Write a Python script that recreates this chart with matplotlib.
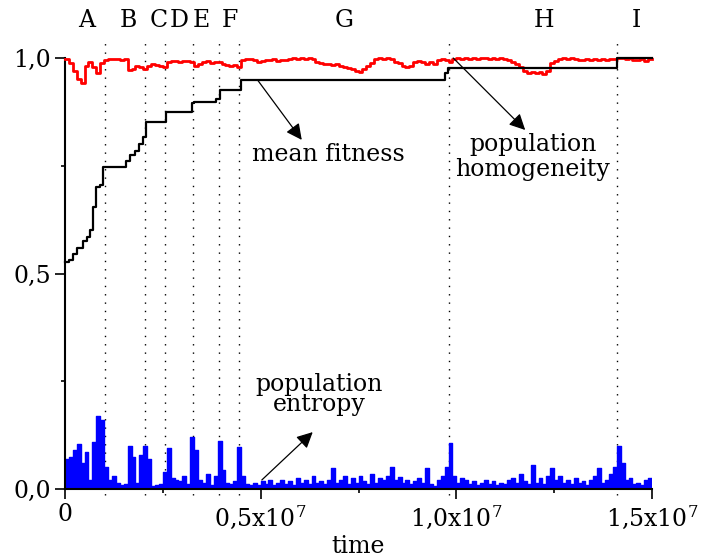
import numpy as np
import matplotlib
matplotlib.use("Agg")
import matplotlib.pyplot as plt

plt.rcParams['font.family'] = ['DejaVu Serif']
plt.rcParams['mathtext.fontset'] = 'dejavuserif'

# time grid in units of 1e6 steps (0 .. 1.5e7)
t_grid = np.arange(151) * 0.1e6

# population homogeneity (red)
homogeneity = [
    0.998, 0.988, 0.970, 0.952, 0.942, 0.982, 0.990, 0.978, 0.965, 0.988,
    0.995, 0.998, 0.997, 0.998, 0.996, 0.998, 0.972, 0.975, 0.982, 0.978,
    0.975, 0.982, 0.985, 0.984, 0.982, 0.978, 0.990, 0.992, 0.993, 0.990,
    0.994, 0.992, 0.990, 0.982, 0.985, 0.990, 0.992, 0.988, 0.991, 0.990,
    0.986, 0.984, 0.982, 0.983, 0.980, 0.995, 0.997, 0.998, 0.996, 0.990,
    0.992, 0.996, 0.995, 0.997, 0.994, 0.996, 0.995, 0.998, 0.999, 0.998,
    0.999, 0.998, 0.999, 0.998, 0.990, 0.988, 0.985, 0.986, 0.984, 0.985,
    0.982, 0.980, 0.976, 0.974, 0.970, 0.968, 0.975, 0.982, 0.988, 0.998,
    0.999, 0.998, 0.999, 0.998, 0.990, 0.988, 0.982, 0.980, 0.981, 0.990,
    0.992, 0.990, 0.986, 0.990, 0.985, 0.996, 0.997, 0.995, 0.990, 0.998,
    0.999, 0.998, 0.999, 0.997, 0.999, 0.998, 0.999, 0.999, 0.997, 0.999,
    0.998, 0.999, 0.997, 0.995, 0.990, 0.985, 0.980, 0.970, 0.966, 0.968,
    0.965, 0.967, 0.964, 0.970, 0.988, 0.992, 0.998, 0.999, 0.998, 0.999,
    0.998, 0.995, 0.996, 0.997, 0.995, 0.997, 0.996, 0.998, 0.996, 0.997,
    0.998, 0.999, 0.999, 0.998, 0.999, 0.996, 0.995, 0.997, 0.994, 0.998,
    0.998,
]

# population entropy (blue)
entropy = [
    0.070, 0.075, 0.090, 0.105, 0.060, 0.085, 0.020, 0.110, 0.170, 0.160,
    0.050, 0.020, 0.030, 0.015, 0.010, 0.012, 0.100, 0.075, 0.015, 0.080,
    0.100, 0.070, 0.008, 0.010, 0.012, 0.040, 0.095, 0.025, 0.020, 0.018,
    0.030, 0.012, 0.120, 0.090, 0.020, 0.015, 0.035, 0.010, 0.030, 0.112,
    0.045, 0.015, 0.012, 0.018, 0.097, 0.030, 0.012, 0.010, 0.015, 0.010,
    0.018, 0.012, 0.020, 0.010, 0.015, 0.022, 0.012, 0.018, 0.010, 0.025,
    0.015, 0.020, 0.012, 0.030, 0.015, 0.018, 0.012, 0.020, 0.048, 0.015,
    0.020, 0.030, 0.012, 0.025, 0.015, 0.030, 0.018, 0.012, 0.035, 0.015,
    0.025, 0.020, 0.030, 0.052, 0.020, 0.028, 0.015, 0.022, 0.012, 0.018,
    0.025, 0.015, 0.048, 0.012, 0.008, 0.020, 0.030, 0.050, 0.107, 0.030,
    0.015, 0.025, 0.020, 0.012, 0.018, 0.010, 0.015, 0.022, 0.012, 0.018,
    0.010, 0.015, 0.012, 0.020, 0.025, 0.015, 0.035, 0.018, 0.012, 0.056,
    0.015, 0.025, 0.012, 0.030, 0.048, 0.020, 0.030, 0.015, 0.020, 0.012,
    0.025, 0.015, 0.018, 0.010, 0.020, 0.030, 0.048, 0.015, 0.020, 0.035,
    0.050, 0.100, 0.060, 0.020, 0.025, 0.012, 0.015, 0.010, 0.020, 0.025,
    0.012,
]

# mean fitness (black), step breakpoints
fitness_t = [0, 0.1e6, 0.2e6, 0.3e6, 0.45e6, 0.55e6, 0.65e6, 0.72e6, 0.8e6,
             0.9e6, 0.98e6, 1.55e6, 1.65e6, 1.78e6, 1.88e6, 2.0e6, 2.08e6,
             2.58e6, 3.25e6, 3.3e6, 3.87e6, 3.95e6, 4.5e6, 9.7e6, 9.78e6,
             14.1e6, 15.0e6]
fitness = [0.527, 0.531, 0.545, 0.560, 0.575, 0.585, 0.600, 0.655, 0.700,
           0.705, 0.748, 0.760, 0.775, 0.785, 0.800, 0.817, 0.852, 0.875,
           0.895, 0.899, 0.905, 0.926, 0.949, 0.965, 0.976, 1.0, 1.0]

# phase boundaries and labels
phase_bounds = [1.02e6, 2.04e6, 2.55e6, 3.26e6, 3.93e6, 4.45e6, 9.81e6, 14.1e6]
phase_labels = ["A", "B", "C", "D", "E", "F", "G", "H", "I"]
phase_label_x = [0.56e6, 1.61e6, 2.40e6, 2.93e6, 3.49e6, 4.21e6, 7.14e6,
                 12.24e6, 14.59e6]

fig = plt.figure(figsize=(7.04, 5.6), dpi=100)
ax = fig.add_axes([65 / 704, 1 - 489 / 560, (652 - 65) / 704, (489 - 58) / 560])

FS = 17

ax.vlines(phase_bounds, -0.015, 1.035, colors="black", linestyles=(0, (1, 5)),
          linewidth=1.0, clip_on=False, zorder=1)

ax.fill_between(t_grid, 0, entropy, step="post", color="blue", lw=0, zorder=2)
ax.step(t_grid, entropy, where="post", color="blue", lw=1.0, zorder=2)
ax.step(t_grid, homogeneity, where="post", color="red", lw=2.0, zorder=3,
        clip_on=False)
ax.step(fitness_t, fitness, where="post", color="black", lw=1.6, zorder=4,
        clip_on=False)

for x, lab in zip(phase_label_x, phase_labels):
    ax.text(x, 1.088, lab, ha="center", va="center", fontsize=FS,
            clip_on=False)

arrow = dict(arrowstyle="-|>", mutation_scale=24, lw=0.9, color="black",
             shrinkA=0, shrinkB=0)
ax.annotate("", xy=(6.05e6, 0.81), xytext=(4.92e6, 0.949), arrowprops=arrow)
ax.text(6.73e6, 0.775, "mean fitness", ha="center", va="center", fontsize=FS)

ax.annotate("", xy=(11.76e6, 0.833), xytext=(9.92e6, 1.0), arrowprops=arrow)
ax.text(11.96e6, 0.77, "population\nhomogeneity", ha="center", va="center",
        fontsize=FS, linespacing=1.15)

ax.annotate("", xy=(6.33e6, 0.132), xytext=(5.03e6, 0.021), arrowprops=arrow)
ax.text(6.5e6, 0.22, "population\nentropy", ha="center", va="center",
        fontsize=FS, linespacing=0.85)

ax.set_xlim(0, 1.5e7)
ax.set_ylim(0, 1.0)
ax.spines["top"].set_visible(False)
ax.spines["right"].set_visible(False)
ax.spines["left"].set_linewidth(1.5)
ax.spines["bottom"].set_linewidth(1.5)

ax.set_xticks([0, 0.5e7, 1.0e7, 1.5e7])
ax.set_xticklabels(["0", r"0,5x10$^7$", r"1,0x10$^7$", r"1,5x10$^7$"])
ax.set_xticks([0.25e7, 0.75e7, 1.25e7], minor=True)
ax.set_yticks([0, 0.5, 1.0])
ax.set_yticklabels(["0,0", "0,5", "1,0"])
ax.set_yticks([0.25, 0.75], minor=True)
ax.tick_params(which="major", length=7, width=1.2, labelsize=FS, pad=3)
ax.tick_params(which="minor", length=3, width=1.2)
ax.set_xlabel("time", fontsize=FS, labelpad=3)

fig.savefig("out.png", dpi=100)
